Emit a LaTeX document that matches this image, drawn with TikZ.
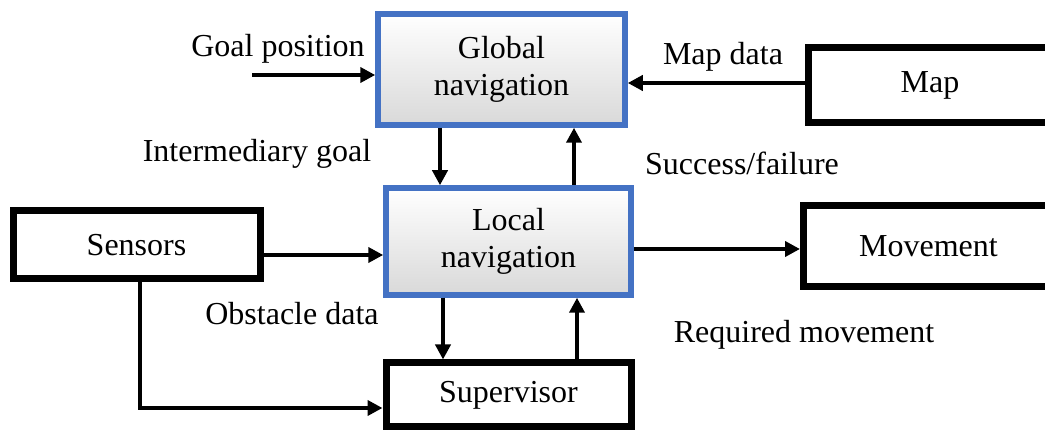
\documentclass[tikz,border=0pt]{standalone}
\usepackage{fontspec}
\setmainfont{Liberation Serif}
\usetikzlibrary{arrows.meta}
\definecolor{navblue}{HTML}{4472C4}
\tikzset{
  txt/.style={font=\fontsize{32}{37}\selectfont},
  lbl/.style={txt, inner sep=0pt, anchor=base},
  navbox/.style={txt, draw=navblue, line width=5.5pt, top color=white,
    bottom color=black!15, align=center, inner sep=0pt},
  plainbox/.style={txt, draw=black, line width=7pt, fill=white, inner sep=0pt},
  arr/.style={line width=4pt, -{Triangle[length=15pt,width=15pt]}},
}
\begin{document}
\begin{tikzpicture}[x=1pt, y=-1pt]
  \useasboundingbox (0,0) rectangle (1045,430);
  \clip (0,0) rectangle (1045,430);

  % blocks
  \node[navbox, minimum width=247pt, minimum height=111pt] (glob) at (501.5,69.5)
    {Global\\navigation};
  \node[navbox, minimum width=245pt, minimum height=107pt] (loc) at (508.5,241.5)
    {Local\\navigation};
  \node[plainbox, minimum width=247pt, minimum height=68pt] (sen) at (136.5,245) {Sensors};
  \node[plainbox, minimum width=245pt, minimum height=64pt] (sup) at (508.5,395) {Supervisor};
  \node[plainbox, minimum width=243pt, minimum height=75.5pt] (map) at (930,85) {Map};
  \node[plainbox, minimum width=250pt, minimum height=81.5pt] (mov) at (928.5,246) {Movement};

  % helper positions for connectors
  \coordinate (gp) at (252,75);
  \coordinate (my) at (0,83);
  \coordinate (xig) at (440,0);
  \coordinate (xsf) at (574,0);
  \coordinate (sy) at (0,255);
  \coordinate (my2) at (0,249);
  \coordinate (xod) at (443,0);
  \coordinate (xrm) at (577,0);
  \coordinate (xs) at (140,0);
  \coordinate (ys) at (0,408);

  % connectors
  \draw[arr] (gp) -- (gp -| glob.west);
  \draw[arr] (map.west |- my) -- (glob.east |- my);
  \draw[arr] (glob.south -| xig) -- (loc.north -| xig);
  \draw[arr] (loc.north -| xsf) -- (glob.south -| xsf);
  \draw[arr] (sen.east |- sy) -- (loc.west |- sy);
  \draw[arr] (loc.east |- my2) -- (mov.west |- my2);
  \draw[arr] (loc.south -| xod) -- (sup.north -| xod);
  \draw[arr] (sup.north -| xrm) -- (loc.south -| xrm);
  \draw[arr] (sen.south -| xs) |- (sup.west |- ys);

  % labels
  \node[lbl] (lgp) at (278,57) {Goal position};
  \node[lbl] (lmd) at (723,65) {Map data};
  \node[lbl] (lig) at (257,162) {Intermediary goal};
  \node[lbl] (lsf) at (742,175) {Success/failure};
  \node[lbl] (lod) at (292,325) {Obstacle data};
  \node[lbl] (lrm) at (804,343) {Required movement};
\end{tikzpicture}
\end{document}
